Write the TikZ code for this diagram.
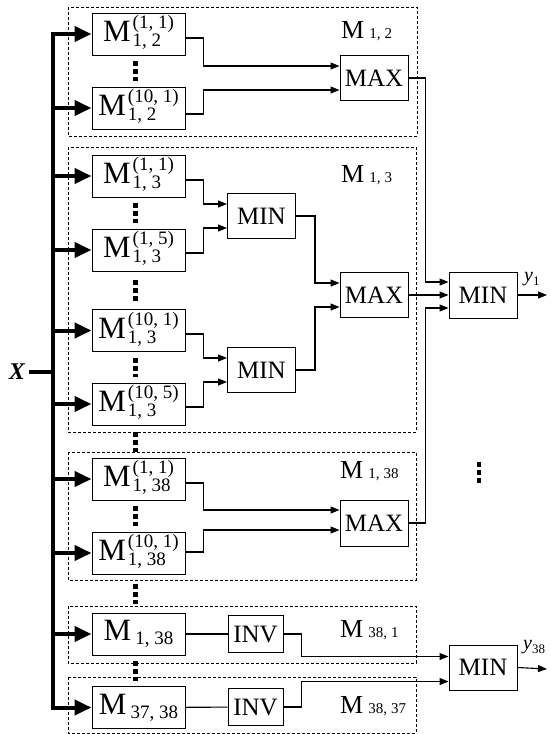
\documentclass[tikz,border=0pt]{standalone}
\usepackage{fontspec}
\setmainfont{Liberation Serif}
\usetikzlibrary{arrows.meta,calc}
\newcommand{\szM}{\fontsize{31}{31}\selectfont}
\newcommand{\szS}{\fontsize{19}{18}\selectfont}
\newcommand{\szOp}{\fontsize{25}{25}\selectfont}
\newcommand{\szL}{\fontsize{26}{26}\selectfont}
\newcommand{\szLS}{\fontsize{15}{15}\selectfont}
\newcommand{\MT}[2]{{\szM M}\hspace{2pt}\raisebox{-5pt}{\szS\begin{tabular}[b]{@{}l@{}}#1\\#2\end{tabular}}}
\newcommand{\MS}[1]{{\szM M}\hspace{4pt}\raisebox{-4pt}{\szS #1}}
\newcommand{\ML}[2]{{\szL M}\hspace{5pt}{\szLS #1,\hspace{4pt}#2}}
\newcommand{\ylab}[1]{{\fontsize{20}{20}\selectfont\itshape y}\raisebox{-4pt}{\fontsize{13}{13}\selectfont #1}}
\begin{document}
\begin{tikzpicture}[x=1pt,y=-1pt,
  mbox/.style={draw, line width=1pt, minimum width=93pt, minimum height=42pt, inner sep=0pt},
  opbox/.style={draw, line width=1pt, minimum width=68pt, minimum height=45pt, inner sep=0pt, font=\szOp},
  invbox/.style={draw, line width=1pt, minimum width=55pt, minimum height=37pt, inner sep=0pt, font=\szOp},
  grp/.style={draw, line width=0.7pt, dash pattern=on 3pt off 2pt},
  conn/.style={line width=1.1pt, -{Triangle[length=9pt,width=7pt]}},
  plain/.style={line width=1.1pt},
  busline/.style={line width=4pt},
  busarrow/.style={line width=4pt, -{Triangle[length=17pt,width=15pt]}},
  vdots/.style={line width=4.5pt, dash pattern=on 5pt off 3pt, shorten <=#1, shorten >=#1},
  grplabel/.style={anchor=base west, inner sep=0pt},
]
\useasboundingbox (0,0) rectangle (551,734);

% group frames
\draw[grp] (68,7) rectangle (417,136);
\draw[grp] (68,147) rectangle (416,432);
\draw[grp] (68,452) rectangle (416,580);
\draw[grp] (68,606) rectangle (416,663);
\draw[grp] (68,677) rectangle (416,733);

% group labels
\node[grplabel] (l12) at (341,38) {\ML{1}{2}};
\node[grplabel] (l13) at (341,182) {\ML{1}{3}};
\node[grplabel] (l138) at (340,478) {\ML{1}{38}};
\node[grplabel] (l381) at (340,637) {\ML{38}{1}};
\node[grplabel] (l3837) at (340,713) {\ML{38}{37}};

% M boxes
\node[mbox] (a1) at (138.5,34) {\MT{(1, 1)}{1, 2}};
\node[mbox] (a2) at (138.5,108) {\MT{(10, 1)}{1, 2}};
\node[mbox] (b1) at (138.5,176) {\MT{(1, 1)}{1, 3}};
\node[mbox] (b2) at (138.5,250) {\MT{(1, 5)}{1, 3}};
\node[mbox] (b3) at (138.5,330.5) {\MT{(10, 1)}{1, 3}};
\node[mbox] (b4) at (138.5,404) {\MT{(10, 5)}{1, 3}};
\node[mbox] (c1) at (138.5,479) {\MT{(1, 1)}{1, 38}};
\node[mbox] (c2) at (138.5,553) {\MT{(10, 1)}{1, 38}};
\node[mbox] (d1) at (138.5,634) {\MS{1, 38}};
\node[mbox] (e1) at (138.5,707.5) {\MS{37, 38}};

% operator boxes
\node[opbox] (max1) at (374,78) {MAX};
\node[opbox] (min1) at (261.5,216) {MIN};
\node[opbox] (min2) at (261.5,370) {MIN};
\node[opbox] (max2) at (374,295) {MAX};
\node[opbox, minimum height=46pt] (max3) at (374,523) {MAX};
\node[opbox, minimum height=46pt] (fmin1) at (483,295) {MIN};
\node[opbox] (fmin2) at (483,667.5) {MIN};
\node[invbox] (inv1) at (255.5,634) {INV};
\node[invbox] (inv2) at (255.5,707) {INV};

% input X and bus
\node[inner sep=0pt, font=\fontsize{24}{24}\selectfont\bfseries\itshape] (X) at (17,372) {X};
\coordinate (bt) at (53,34);
\coordinate (bb) at (53,707.5);
\draw[busline, line cap=rect] (bt) -- (bb);
\draw[busline, shorten <=4pt] (X.east) -- (X.east -| bt);
\foreach \n in {a1,a2,b1,b2,b3,b4,c1,c2,d1,e1}
  \draw[busarrow] (\n.west -| bt) -- (\n.west);

% vertical ellipsis dots
\draw[vdots=5.5pt] ([xshift=-3pt]a1.south) -- ([xshift=-3pt]a2.north);
\draw[vdots=5.5pt] ([xshift=-3pt]b1.south) -- ([xshift=-3pt]b2.north);
\draw[vdots=8.5pt] ([xshift=-3pt]b2.south) -- ([xshift=-3pt]b3.north);
\draw[vdots=6pt] ([xshift=-3pt]b3.south) -- ([xshift=-3pt]b4.north);
\draw[vdots=6pt] ([xshift=-3pt]b4.south) -- ([xshift=-3pt]c1.north);
\draw[vdots=5.5pt] ([xshift=-3pt]c1.south) -- ([xshift=-3pt]c2.north);
\draw[vdots=9pt] ([xshift=-3pt]c2.south) -- ([xshift=-3pt]d1.north);
\draw[vdots=5.5pt] ([xshift=-3pt]d1.south) -- ([xshift=-3pt]e1.north);
\coordinate (dt) at (479,462);
\coordinate (db) at (479,484);
\draw[vdots=0pt] (dt) -- (db);

% M1,2
\draw[conn] ([yshift=-4pt]a1.east) -- ++(18,0) |- ([yshift=12pt]max1.west);
\draw[conn] ([yshift=-6pt]a2.east) -- ++(18,0) |- ([yshift=-12pt]max1.west);
% M1,3
\draw[conn] ([yshift=-4pt]b1.east) -- ++(18,0) |- ([yshift=12pt]min1.west);
\draw[conn] ([yshift=-3pt]b2.east) -- ++(18,0) |- ([yshift=-12pt]min1.west);
\draw[conn] ([yshift=-3.5pt]b3.east) -- ++(18,0) |- ([yshift=12pt]min2.west);
\draw[conn] ([yshift=-3pt]b4.east) -- ++(18,0) |- ([yshift=-12pt]min2.west);
\draw[conn] (min1.east) -- ++(19,0) |- ([yshift=12pt]max2.west);
\draw[conn] (min2.east) -- ++(19,0) |- ([yshift=-12pt]max2.west);
% M1,38
\draw[conn] ([yshift=-4pt]c1.east) -- ++(18,0) |- ([yshift=13pt]max3.west);
\draw[conn] ([yshift=1pt]c2.east) -- ++(18,0) |- ([yshift=-7pt]max3.west);
% to final MIN y1
\draw[conn] (max1.east) -- ++(17,0) |- ([yshift=13pt]fmin1.west);
\draw[conn] (max2.east) -- (fmin1.west);
\draw[conn] (max3.east) -- ++(17,0) |- ([yshift=-13pt]fmin1.west);
\coordinate (y1end) at (547,295);
\draw[conn] (fmin1.east) -- (y1end);
\node[anchor=base west, inner sep=0pt] (y1) at (524,281) {\ylab{1}};

% M38,1 and M38,37
\draw[plain] (d1) -- (inv1);
\draw[plain] (e1) -- (inv2);
\draw[conn] (inv1.east) -- ++(18,0) |- ([yshift=11pt]fmin2.west);
\draw[conn] (inv2.east) -- ++(18,0) |- ([yshift=-14pt]fmin2.west);
\coordinate (y38end) at (547,669);
\draw[conn] (fmin2.east) -- (y38end);
\node[anchor=base west, inner sep=0pt] (y38) at (523,649) {\ylab{38}};
\end{tikzpicture}
\end{document}
